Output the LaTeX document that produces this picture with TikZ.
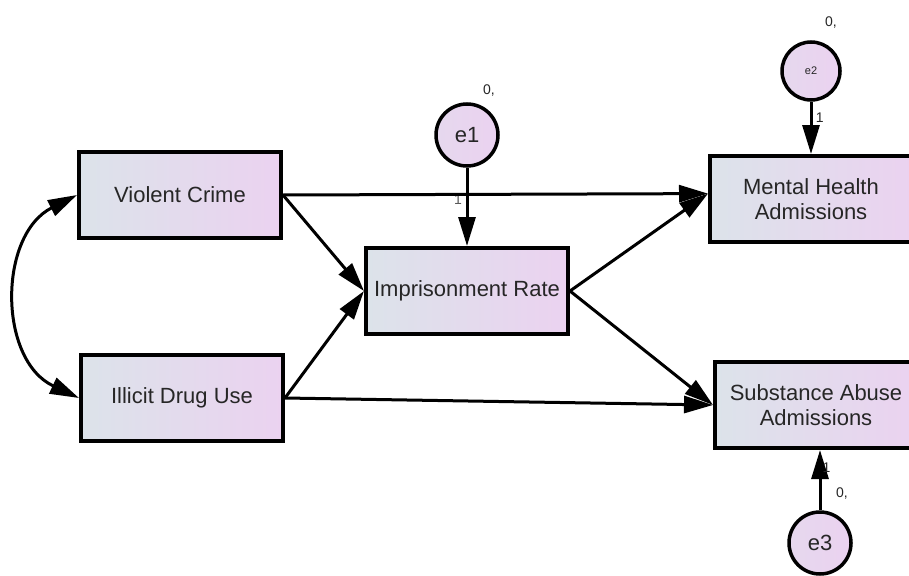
\documentclass[tikz,border=0pt]{standalone}
\usepackage{fontspec}
\setmainfont{Liberation Sans}
\usetikzlibrary{arrows.meta}
\definecolor{boxleft}{HTML}{DCE3EA}
\definecolor{boxright}{HTML}{EBD2F0}
\begin{document}
\begin{tikzpicture}[x=1pt, y=-1pt,
    var/.style={draw, line width=4pt, minimum width=202pt, minimum height=86pt,
      left color=boxleft, right color=boxright, align=center,
      font=\fontsize{22}{25}\selectfont, text=black!85},
    err/.style={draw, circle, line width=3.5pt, minimum size=62pt, inner sep=0pt,
      left color=boxleft!35!boxright, right color=boxright, text=black!85},
    reg/.style={line width=3pt, -{Triangle[length=29pt, width=17pt]}},
    lab/.style={font=\fontsize{14}{16}\selectfont, text=black!85}]
    \clip (0,0) rectangle (909,575);

    % observed variables
    \node (violent) [var] at (180,195) {Violent Crime};
    \node (drug) [var] at (182,398) {Illicit Drug Use};
    \node (prison) [var] at (467,291) {Imprisonment Rate};
    \node (mental) [var] at (811,199) {Mental Health\\Admissions};
    \node (substance) [var] at (816,405) {Substance Abuse\\Admissions};

    % error terms
    \node (e1) [err, font=\fontsize{22}{25}\selectfont] at (467,135) {e1};
    \node (e2) [err, minimum size=58pt, font=\fontsize{11}{13}\selectfont] at (811,71) {e2};
    \node (e3) [err, font=\fontsize{22}{25}\selectfont] at (820,543) {e3};
    \node (z1) [lab] at (489,91) {0,};
    \node (z2) [lab] at (831,23) {0,};
    \node (z3) [lab] at (842,494) {0,};
    \node (w1) [lab, text=black!65] at (458,200) {1};

    % paths
    \draw[reg] (violent.east) -- (mental.177);
    \draw[reg] (violent.east) -- (prison.west);
    \draw[reg] (drug.east) -- (prison.west);
    \draw[reg] (drug.east) -- (substance.west);
    \draw[reg] (prison.east) -- (mental.177);
    \draw[reg] (prison.east) -- (substance.west);
    \draw[reg] (e1.south) -- (prison.north);
    \draw[reg] (e2.south) -- (e2.south |- mental.north) node [pos=0.3, right, lab] {1};
    \draw[reg] (e3.north) -- (e3.north |- substance.south) node [pos=0.7, right, lab, inner sep=1pt] {1};

    % covariance
    \draw[line width=3pt, {Triangle[length=29pt, width=17pt]}-{Triangle[length=29pt, width=17pt]}]
      (violent.west) .. controls (-2,235) and (-2,360) .. (drug.west);
\end{tikzpicture}
\end{document}
